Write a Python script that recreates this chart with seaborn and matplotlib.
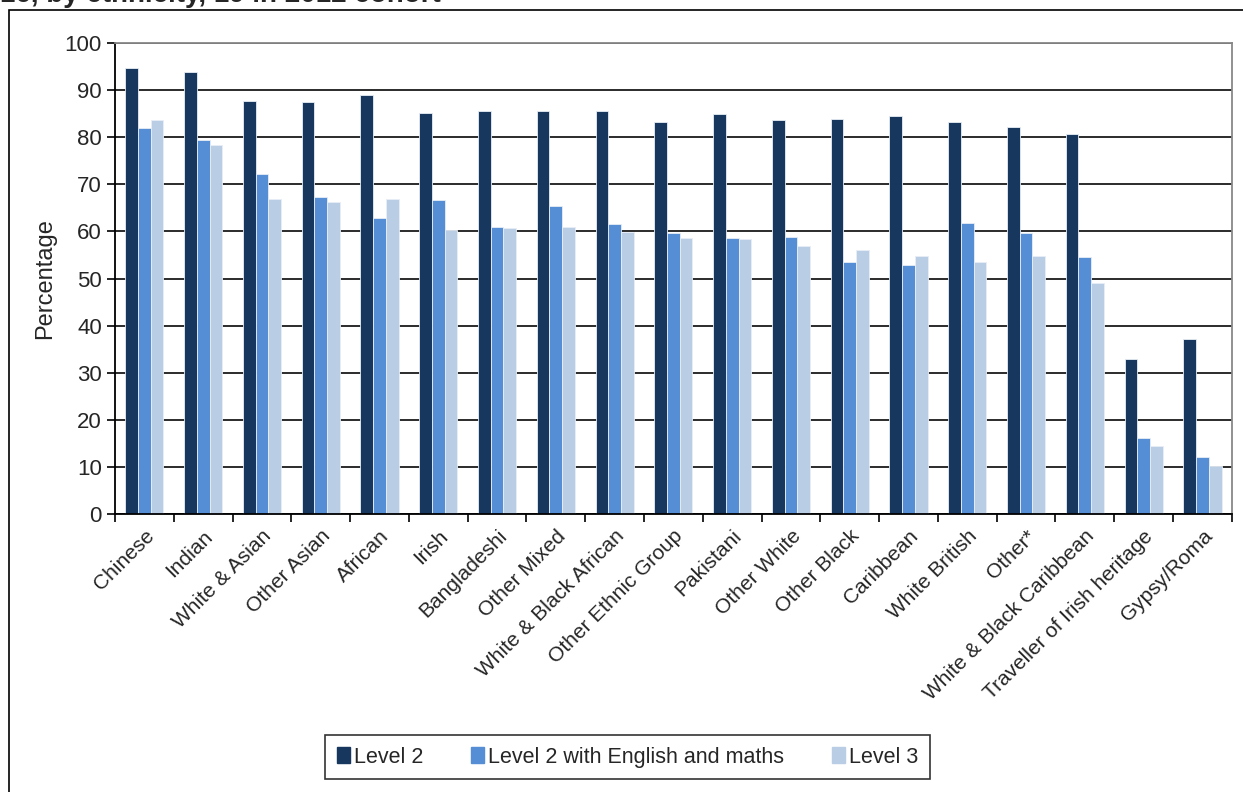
import matplotlib
matplotlib.use("Agg")
import matplotlib.pyplot as plt
import matplotlib.patches as mpatches
import numpy as np
import pandas as pd
import seaborn as sns

groups = ["Chinese", "Indian", "White & Asian", "Other Asian", "African", "Irish",
          "Bangladeshi", "Other Mixed", "White & Black African", "Other Ethnic Group",
          "Pakistani", "Other White", "Other Black", "Caribbean", "White British",
          "Other*", "White & Black Caribbean", "Traveller of Irish heritage", "Gypsy/Roma"]
level2 = [94.7, 93.9, 87.6, 87.4, 89.0, 85.2, 85.5, 85.5, 85.5, 83.3,
          84.9, 83.6, 83.8, 84.4, 83.3, 82.2, 80.6, 33.0, 37.1]
level2_em = [81.9, 79.5, 72.1, 67.2, 62.9, 66.7, 60.9, 65.3, 61.5, 59.6,
             58.5, 58.8, 53.6, 52.8, 61.8, 59.7, 54.5, 16.1, 12.0]
level3 = [83.6, 78.4, 66.9, 66.2, 66.9, 60.4, 60.7, 60.9, 59.9, 58.7,
          58.3, 56.9, 56.1, 54.8, 53.4, 54.8, 49.0, 14.5, 10.1]
series = ["Level 2", "Level 2 with English and maths", "Level 3"]
colors = ["#17375E", "#558ED5", "#B9CDE5"]

df = pd.DataFrame({"group": groups * 3,
                   "series": np.repeat(series, len(groups)),
                   "value": level2 + level2_em + level3})

sns.set_theme(style="white")
plt.rcParams["font.family"] = ["Liberation Sans", "DejaVu Sans"]

fig = plt.figure(figsize=(12.43, 7.92), dpi=100)
ax = fig.add_axes([0.0925, 0.351, 0.8985, 0.5947])

sns.barplot(data=df, x="group", y="value", hue="series", palette=colors,
            saturation=1, width=0.65, edgecolor="#E8EEF6", linewidth=0.6,
            ax=ax, legend=False)

ax.set_ylim(0, 100)
ax.set_xlim(-0.5, len(groups) - 0.5)
ax.set_yticks(range(0, 101, 10))
ax.yaxis.grid(True, color="#1a1a1a", linewidth=1.3)
ax.set_axisbelow(True)
ax.set_xlabel("")
ax.set_ylabel("Percentage", fontsize=17, labelpad=6)

ax.set_xticks(range(len(groups)))
ax.set_xticklabels(groups, rotation=45, ha="right", rotation_mode="anchor", fontsize=15)
ax.tick_params(axis="x", which="major", length=0, pad=9)
ax.set_xticks(np.arange(-0.5, len(groups)), minor=True)
ax.tick_params(axis="x", which="minor", bottom=True, length=6, width=1.2, color="black")
ax.tick_params(axis="y", left=True, length=6, width=1.2, color="black", labelsize=16)

for s in ["left", "bottom"]:
    ax.spines[s].set_color("black")
    ax.spines[s].set_linewidth(1.3)
for s in ["top", "right"]:
    ax.spines[s].set_color("#888888")
    ax.spines[s].set_linewidth(1.3)

handles = [mpatches.Patch(color=c, label=l) for c, l in zip(colors, series)]
leg = fig.legend(handles=handles, loc="center", bbox_to_anchor=(0.505, 0.044), ncol=3,
                 fontsize=15.5, frameon=True, fancybox=False, handlelength=0.6,
                 handleheight=0.8, handletextpad=0.2, columnspacing=2.2,
                 borderpad=0.55)
leg.get_frame().set_edgecolor("black")
leg.get_frame().set_linewidth(1.2)

# outer chart frame
fig.add_artist(mpatches.Rectangle((9 / 1243, -0.01), 1.0, 1 - 10 / 792 + 0.01,
                                  transform=fig.transFigure, fill=False,
                                  edgecolor="black", linewidth=1.2))
# cut-off title of the page above
fig.text(0.0, 1.006, "16, by ethnicity, 19 in 2012 cohort", fontsize=20,
         fontweight="bold", ha="left", va="center")

fig.savefig("out.png", dpi=100)
